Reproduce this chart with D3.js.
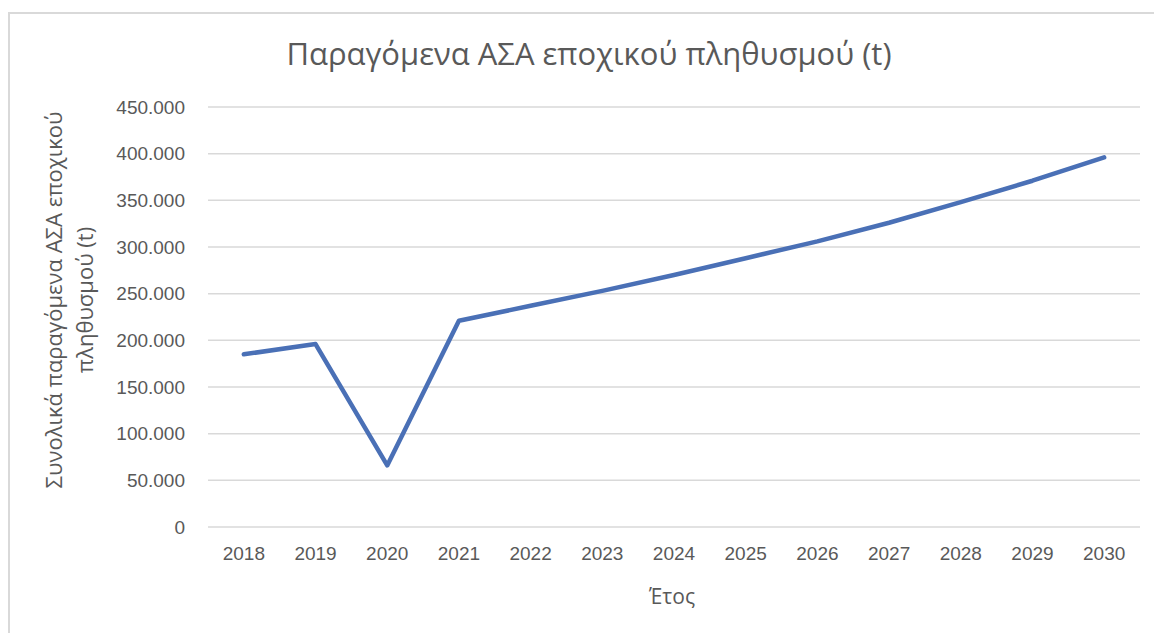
<!DOCTYPE html>
<html>
<head>
<meta charset="utf-8">
<script src="https://cdn.jsdelivr.net/npm/d3@7"></script>
<style>
  body { margin: 0; background: #fff; }
  svg { display: block; font-family: "Open Sans", "Noto Sans", sans-serif; }
</style>
</head>
<body>
<div id="chart"></div>
<script>
const years = ["2018", "2019", "2020", "2021", "2022", "2023", "2024", "2025", "2026", "2027", "2028", "2029", "2030"];
const values = [185000, 196000, 66000, 221000, 237000, 253000, 270000, 288000, 306000, 326000, 348000, 371000, 396000];
const yTicks = [0, 50000, 100000, 150000, 200000, 250000, 300000, 350000, 400000, 450000];

const title = "Παραγόμενα ΑΣΑ εποχικού πληθυσμού (t)";
const yLabel = ["Συνολικά παραγόμενα ΑΣΑ εποχικού", "πληθυσμού (t)"];
const xLabel = "Έτος";

const width = 1154, height = 633;
const margin = { top: 107, right: 14, bottom: 106, left: 208 };
const innerW = width - margin.left - margin.right;
const innerH = height - margin.top - margin.bottom;

const svg = d3.select("#chart")
  .append("svg")
  .attr("width", width)
  .attr("height", height);

// chart frame (runs off the right and bottom of the picture)
svg.append("rect")
  .attr("x", 9).attr("y", 13)
  .attr("width", 1200).attr("height", 700)
  .attr("fill", "#fff")
  .attr("stroke", "#d9d9d9")
  .attr("stroke-width", 2);

const g = svg.append("g")
  .attr("transform", `translate(${margin.left},${margin.top})`);

const x = d3.scaleBand().domain(years).range([0, innerW]);
const y = d3.scaleLinear().domain([0, 450000]).range([innerH, 0]);

const fmt = d => d === 0 ? "0" : d3.format(",")(d).replace(/,/g, ".");

// gridlines
g.append("g")
  .selectAll("line")
  .data(yTicks)
  .join("line")
  .attr("x1", 0).attr("x2", innerW)
  .attr("y1", d => y(d)).attr("y2", d => y(d))
  .attr("stroke", "#d9d9d9")
  .attr("stroke-width", 1.5);

// y axis
const yAxis = g.append("g")
  .call(d3.axisLeft(y).tickValues(yTicks).tickFormat(fmt).tickSize(0).tickPadding(23));
yAxis.select(".domain").remove();
yAxis.selectAll("text")
  .attr("fill", "#595959")
  .style("font-size", "19px");

// x axis
const xAxis = g.append("g")
  .attr("transform", `translate(0,${innerH})`)
  .call(d3.axisBottom(x).tickSize(0).tickPadding(20));
xAxis.select(".domain").remove();
xAxis.selectAll("text")
  .attr("fill", "#595959")
  .style("font-size", "19px");

// line
const line = d3.line()
  .x((d, i) => x(years[i]) + x.bandwidth() / 2)
  .y(d => y(d));

g.append("path")
  .datum(values)
  .attr("d", line)
  .attr("fill", "none")
  .attr("stroke", "#4a70b6")
  .attr("stroke-width", 4.5)
  .attr("stroke-linecap", "round")
  .attr("stroke-linejoin", "round");

// title
svg.append("text")
  .attr("x", 589).attr("y", 65)
  .attr("text-anchor", "middle")
  .attr("fill", "#595959")
  .style("font-size", "31px")
  .text(title);

// axis titles
svg.append("text")
  .attr("x", 672).attr("y", 604)
  .attr("text-anchor", "middle")
  .attr("fill", "#595959")
  .style("font-size", "21px")
  .text(xLabel);

const yl = svg.append("text")
  .attr("transform", "translate(62,300) rotate(-90)")
  .attr("text-anchor", "middle")
  .attr("fill", "#595959")
  .style("font-size", "22px");
yLabel.forEach((t, i) => {
  yl.append("tspan").attr("x", 0).attr("dy", i === 0 ? 0 : 31).text(t);
});
</script>
</body>
</html>
